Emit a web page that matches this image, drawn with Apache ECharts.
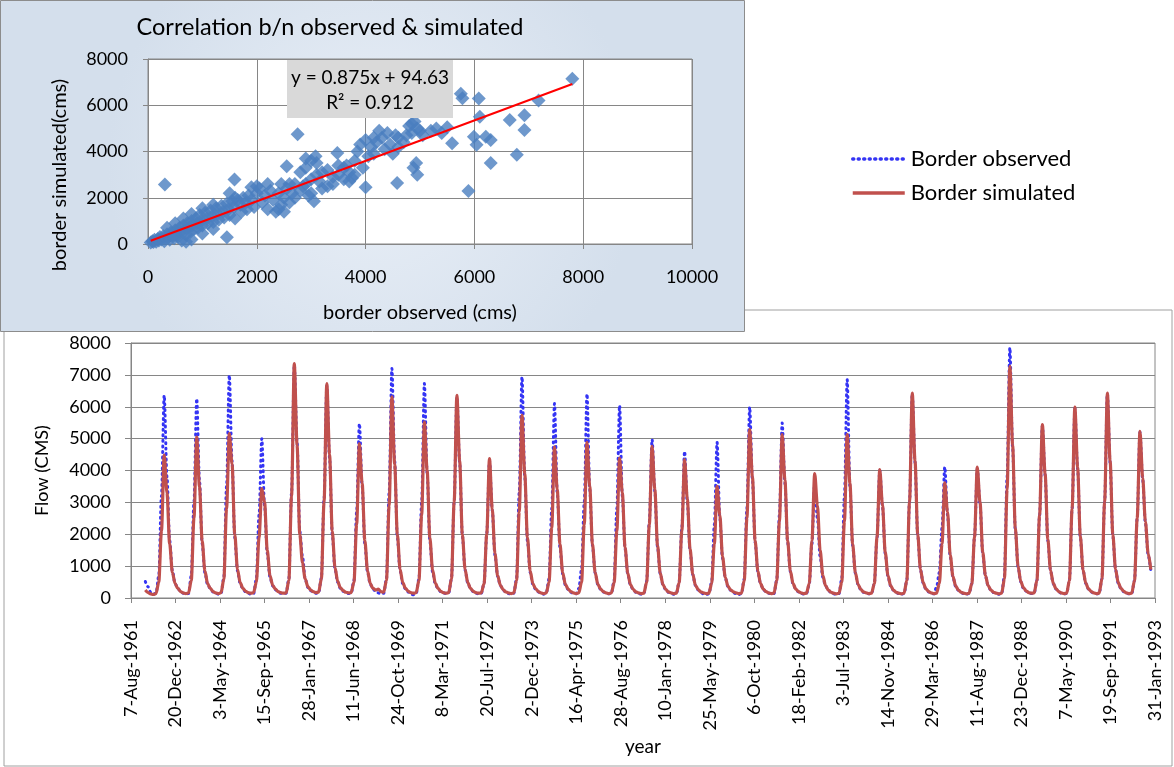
<!DOCTYPE html>
<html>
<head>
<meta charset="utf-8">
<title>Border observed vs simulated</title>
<script src="https://cdn.jsdelivr.net/npm/echarts@6/dist/echarts.min.js"></script>
<style>
  html, body { margin: 0; padding: 0; background: #fff; }
  #chart { width: 1174px; height: 767px; }
</style>
</head>
<body>
<div id="chart"></div>
<script>
var FONT = 'Lato, "Open Sans", sans-serif';

// x axis: days counted from 7-Aug-1961, one label every 500 days
var tickLabels = ['7-Aug-1961', '20-Dec-1962', '3-May-1964', '15-Sep-1965', '28-Jan-1967',
    '11-Jun-1968', '24-Oct-1969', '8-Mar-1971', '20-Jul-1972', '2-Dec-1973', '16-Apr-1975',
    '28-Aug-1976', '10-Jan-1978', '25-May-1979', '6-Oct-1980', '18-Feb-1982', '3-Jul-1983',
    '14-Nov-1984', '29-Mar-1986', '11-Aug-1987', '23-Dec-1988', '7-May-1990', '19-Sep-1991',
    '31-Jan-1993'];

// monthly flow (cms), Jan..Dec, one row per year starting 1962
var startYear = 1962;
var simFlow = [
    250, 170, 130, 110, 140, 500, 2100, 4480, 3300, 1700, 800, 450,
    300, 200, 160, 140, 160, 550, 2500, 5050, 3500, 1800, 850, 450,
    300, 200, 160, 140, 170, 600, 2800, 5160, 4200, 2000, 900, 480,
    300, 210, 170, 150, 170, 500, 1900, 3430, 3010, 1500, 700, 400,
    280, 200, 170, 150, 160, 550, 3200, 7350, 4800, 2000, 1100, 600,
    350, 250, 200, 170, 180, 600, 3000, 6730, 4500, 2100, 950, 520,
    320, 230, 180, 160, 170, 500, 2300, 4840, 3600, 1800, 850, 450,
    300, 250, 280, 200, 180, 550, 2900, 6310, 4200, 2000, 900, 480,
    300, 210, 170, 150, 170, 550, 2600, 5520, 4000, 1900, 880, 470,
    300, 210, 170, 150, 170, 600, 3000, 6360, 4300, 2000, 900, 480,
    300, 210, 170, 150, 160, 450, 2000, 4370, 2800, 1400, 700, 400,
    260, 190, 160, 140, 160, 550, 2700, 5730, 3900, 1900, 850, 450,
    290, 200, 160, 140, 160, 500, 2200, 4740, 3400, 1700, 800, 430,
    280, 200, 160, 140, 160, 500, 2300, 4880, 3500, 1700, 800, 430,
    280, 200, 160, 140, 160, 480, 2100, 4390, 3300, 1600, 780, 420,
    270, 190, 160, 140, 150, 500, 2300, 4760, 3400, 1650, 780, 420,
    270, 190, 160, 140, 150, 480, 2100, 4340, 3100, 1550, 750, 400,
    260, 190, 160, 140, 150, 450, 1700, 3500, 2600, 1300, 650, 370,
    250, 190, 160, 140, 150, 550, 2500, 5280, 3800, 1800, 850, 450,
    280, 200, 160, 140, 150, 550, 2400, 5130, 3700, 1800, 850, 450,
    280, 200, 160, 140, 150, 450, 1800, 3900, 2900, 1500, 700, 390,
    250, 180, 150, 130, 150, 500, 2400, 5130, 3600, 1700, 800, 430,
    270, 190, 160, 140, 150, 450, 1900, 4030, 2900, 1450, 700, 390,
    250, 180, 150, 130, 150, 550, 3000, 6430, 4300, 2000, 900, 480,
    290, 200, 160, 140, 150, 450, 1700, 3610, 2700, 1350, 680, 380,
    250, 180, 150, 130, 150, 450, 1900, 4110, 3000, 1450, 700, 390,
    250, 180, 150, 130, 150, 600, 3400, 7270, 4800, 2200, 1000, 520,
    320, 220, 170, 150, 160, 550, 2600, 5440, 3900, 1850, 870, 460,
    290, 200, 160, 140, 150, 550, 2800, 5990, 4100, 1950, 880, 470,
    290, 200, 160, 140, 150, 600, 3000, 6430, 4300, 2000, 900, 480,
    300, 210, 160, 140, 150, 550, 2500, 5230, 3770, 2400, 1400, 890
];
var obsFlow = [
    520, 350, 180, 120, 150, 700, 3200, 6360, 3800, 1800, 850, 450,
    300, 200, 150, 120, 140, 700, 3000, 6250, 3700, 1700, 800, 420,
    300, 190, 150, 120, 150, 650, 3500, 6990, 4300, 1900, 850, 450,
    280, 190, 150, 120, 140, 600, 2600, 5000, 2900, 1400, 650, 380,
    260, 190, 150, 130, 150, 600, 3300, 7300, 4900, 2100, 1300, 600,
    330, 230, 180, 150, 160, 620, 3100, 6650, 4400, 2000, 900, 500,
    300, 210, 160, 140, 150, 550, 2700, 5470, 3500, 1700, 800, 430,
    280, 200, 160, 130, 150, 600, 3300, 7200, 4300, 1900, 850, 450,
    280, 190, 120, 100, 140, 600, 3000, 6730, 3900, 1800, 820, 440,
    290, 200, 160, 140, 160, 600, 3000, 6300, 4250, 1950, 880, 470,
    290, 200, 150, 130, 150, 450, 2000, 4300, 2750, 1350, 680, 390,
    250, 180, 140, 120, 150, 600, 3300, 6940, 3800, 1800, 800, 430,
    270, 190, 140, 120, 150, 600, 2800, 6100, 3300, 1600, 760, 410,
    270, 180, 140, 130, 300, 900, 3000, 6400, 3400, 1650, 780, 420,
    270, 190, 150, 130, 150, 550, 2800, 6040, 3200, 1550, 750, 400,
    260, 180, 140, 120, 140, 520, 2400, 4970, 3350, 1600, 760, 410,
    260, 180, 140, 120, 140, 500, 2200, 4600, 3000, 1500, 730, 390,
    250, 170, 130, 110, 130, 500, 2300, 4880, 2500, 1250, 630, 360,
    240, 170, 130, 110, 140, 600, 2800, 5990, 3700, 1750, 820, 440,
    270, 190, 150, 130, 140, 560, 2600, 5490, 3600, 1750, 830, 440,
    270, 190, 150, 120, 140, 420, 1700, 3600, 2500, 1300, 650, 380,
    240, 170, 130, 110, 140, 600, 3200, 6850, 3500, 1650, 780, 420,
    260, 180, 150, 130, 140, 450, 1900, 4000, 2850, 1400, 680, 380,
    240, 170, 140, 120, 140, 550, 3000, 6400, 4250, 1950, 880, 470,
    280, 190, 150, 130, 350, 800, 2200, 4110, 2600, 1300, 650, 370,
    240, 170, 140, 120, 140, 450, 1900, 4050, 2950, 1400, 680, 380,
    240, 170, 140, 120, 140, 700, 3800, 7850, 4700, 2150, 980, 510,
    300, 210, 160, 140, 150, 550, 2600, 5400, 3850, 1800, 850, 450,
    280, 190, 150, 130, 140, 550, 2800, 5950, 4050, 1900, 860, 460,
    280, 190, 150, 130, 140, 600, 3000, 6400, 4250, 1950, 880, 470,
    290, 200, 150, 130, 140, 550, 2500, 5200, 3700, 2350, 1350, 850
];

// inset scatter: [observed, simulated]
var scatterPoints = [
    [50, 60], [80, 120], [100, 90], [120, 180], [150, 100], [180, 220], [200, 150], [220, 300],
    [250, 200], [280, 350], [300, 120], [320, 260], [350, 420], [350, 700], [380, 300], [400, 180],
    [420, 500], [450, 380], [480, 250], [500, 600], [500, 900], [520, 420], [550, 300], [580, 700],
    [600, 520], [620, 150], [650, 800], [650, 1100], [680, 600], [700, 100], [700, 400], [720, 900],
    [750, 700], [780, 520], [800, 200], [800, 1000], [800, 1300], [820, 820], [850, 650], [880, 1100],
    [900, 900], [920, 700], [950, 1250], [980, 1000], [1000, 450], [1000, 800], [1000, 1550], [1050, 1350],
    [1080, 1100], [1100, 900], [1150, 1450], [1180, 1200], [1200, 650], [1200, 950], [1200, 1700], [1250, 1550],
    [1280, 1300], [1300, 1050], [1350, 1650], [1380, 1400], [1400, 1150], [1450, 290], [1450, 1750], [1480, 1500],
    [1500, 1250], [1500, 2200], [1550, 1850], [1580, 1600], [1590, 2790], [1600, 1100], [1600, 2000], [1650, 1900],
    [1700, 1700], [1720, 1400], [1750, 2000], [1800, 1800], [1820, 1500], [1850, 2100], [1900, 1900], [1900, 2450],
    [1950, 1600], [2000, 2200], [2000, 2500], [2050, 2400], [2100, 1800], [2150, 2100], [2200, 1500], [2200, 2600],
    [2250, 2300], [2300, 1900], [2350, 1400], [2400, 1500], [2400, 2200], [2450, 1700], [2450, 2600], [2500, 1400],
    [2500, 2000], [2550, 2400], [2550, 3360], [2600, 1800], [2600, 2600], [2650, 2200], [2700, 2000], [2700, 2600],
    [2750, 4750], [2800, 2300], [2800, 3100], [2850, 2500], [2900, 2600], [2900, 3300], [2900, 3700], [2950, 2100],
    [3000, 2200], [3000, 2800], [3000, 3600], [3050, 1850], [3080, 3790], [3100, 3000], [3100, 3500], [3150, 2700],
    [3200, 2400], [3200, 3100], [3300, 2500], [3300, 3200], [3400, 2600], [3400, 2900], [3480, 3930], [3500, 3000],
    [3500, 3400], [3600, 2800], [3600, 3300], [3650, 3400], [3700, 2700], [3700, 3100], [3750, 2850], [3800, 3000],
    [3800, 3600], [3850, 4000], [3900, 4300], [3950, 3300], [4000, 2450], [4000, 4500], [4050, 3800], [4100, 4200],
    [4150, 3900], [4150, 4600], [4200, 4400], [4250, 4900], [4300, 4600], [4350, 4100], [4400, 4800], [4450, 4300],
    [4500, 3900], [4550, 4700], [4580, 2640], [4600, 4200], [4600, 4600], [4700, 4400], [4750, 4700], [4800, 5100],
    [4850, 4800], [4850, 5200], [4880, 3300], [4900, 5300], [4930, 3500], [4950, 3000], [4950, 5000], [5000, 4900],
    [5050, 4700], [5200, 4900], [5300, 5000], [5400, 4800], [5500, 5050], [5590, 4360], [5750, 6500], [5780, 6300],
    [5890, 2290], [5990, 4640], [6040, 4290], [6080, 6290], [6100, 5500], [6210, 4640], [6300, 4500], [6300, 3500],
    [6650, 5360], [6780, 3860], [6920, 5570], [6920, 4930], [7180, 6210], [7800, 7150], [310, 2570]
];
// fitted line y = 0.875x + 94.63, ends
var trendLine = [[50, 138], [7800, 6920]];

var baseDay = Date.UTC(1961, 7, 7);
function toSeries(values) {
    return values.map(function (v, i) {
        var y = startYear + Math.floor(i / 12);
        var m = i % 12;
        return [(Date.UTC(y, m, 15) - baseDay) / 864e5, v];
    });
}
function plain(v) { return String(v); }

var chart = echarts.init(document.getElementById('chart'));
var axisGray = '#868686';

chart.setOption({
    animation: false,
    backgroundColor: '#fff',
    textStyle: { fontFamily: FONT, color: '#000' },
    graphic: [
        { type: 'rect', z: -20, shape: { x: 4, y: 310, width: 1168, height: 456 },
          style: { fill: '#fff', stroke: '#a0a0a0', lineWidth: 1 } },
        { type: 'rect', z: -10, shape: { x: 0.5, y: 0.5, width: 744, height: 331 },
          style: { stroke: '#8c8c8c', lineWidth: 1,
                   fill: new echarts.graphic.RadialGradient(0.5, 0.5, 0.8, [
                       { offset: 0, color: '#e9eff7' }, { offset: 1, color: '#d4dfec' }]) } },
        { type: 'text', z: 50, style: { text: 'Correlation b/n observed & simulated', x: 330, y: 27,
          align: 'center', verticalAlign: 'middle', fontSize: 23.5, fontFamily: FONT, fill: '#000' } },
        { type: 'text', z: 50, rotation: Math.PI / 2, x: 60, y: 175,
          style: { text: 'border simulated(cms)', x: 0, y: 0, align: 'center', verticalAlign: 'middle',
                   fontSize: 20, fontFamily: FONT, fill: '#000' } },
        { type: 'rect', z: 60, shape: { x: 287, y: 60, width: 166, height: 58 },
          style: { fill: '#d9d9d9' } },
        { type: 'text', z: 61, style: { text: 'y = 0.875x + 94.63', x: 370, y: 78, align: 'center',
          verticalAlign: 'middle', fontSize: 19, fontFamily: FONT, fill: '#000' } },
        { type: 'text', z: 61, style: { text: 'R² = 0.912', x: 370, y: 103, align: 'center',
          verticalAlign: 'middle', fontSize: 19, fontFamily: FONT, fill: '#000' } }
    ],
    legend: {
        data: ['Border observed', 'Border simulated'],
        orient: 'vertical',
        left: 846, top: 143,
        itemWidth: 52, itemHeight: 12, itemGap: 12,
        itemStyle: { opacity: 0 },
        lineStyle: { width: 3.5 },
        textStyle: { fontSize: 22, fontFamily: FONT, color: '#000', padding: [0, 0, 0, 1] }
    },
    grid: [
        { left: 131, top: 343, width: 1024, height: 255, show: true,
          borderColor: axisGray, borderWidth: 1, backgroundColor: 'transparent' },
        { left: 148, top: 59, width: 544, height: 185, show: true,
          borderColor: axisGray, borderWidth: 1, backgroundColor: '#fff' }
    ],
    xAxis: [
        { type: 'value', gridIndex: 0, min: 0, max: 11500, interval: 500,
          name: 'year', nameLocation: 'middle', nameGap: 139,
          nameTextStyle: { fontSize: 19, fontFamily: FONT, color: '#000' },
          axisLine: { show: true, lineStyle: { color: axisGray } },
          axisTick: { show: true, length: 5, lineStyle: { color: axisGray } },
          splitLine: { show: false },
          axisLabel: { rotate: 90, margin: 22, fontSize: 18, fontFamily: FONT, color: '#000',
                       showMinLabel: true, showMaxLabel: true,
                       formatter: function (v) { return tickLabels[Math.round(v / 500)] || ''; } } },
        { type: 'value', gridIndex: 1, min: 0, max: 10000, interval: 2000,
          name: 'border observed (cms)', nameLocation: 'middle', nameGap: 59,
          nameTextStyle: { fontSize: 20, fontFamily: FONT, color: '#000' },
          axisLine: { show: true, onZero: false, lineStyle: { color: axisGray } },
          axisTick: { show: true, length: 5, lineStyle: { color: axisGray } },
          splitLine: { show: true, lineStyle: { color: axisGray } },
          axisLabel: { margin: 24, fontSize: 18, fontFamily: FONT, color: '#000', formatter: plain } }
    ],
    yAxis: [
        { type: 'value', gridIndex: 0, min: 0, max: 8000, interval: 1000,
          name: 'Flow (CMS)', nameLocation: 'middle', nameGap: 80,
          nameTextStyle: { fontSize: 18, fontFamily: FONT, color: '#000' },
          axisLine: { show: true, lineStyle: { color: axisGray } },
          axisTick: { show: true, length: 6, lineStyle: { color: axisGray } },
          splitLine: { show: true, lineStyle: { color: axisGray } },
          axisLabel: { margin: 20, fontSize: 18, fontFamily: FONT, color: '#000', formatter: plain } },
        { type: 'value', gridIndex: 1, min: 0, max: 8000, interval: 2000,
          axisLine: { show: true, onZero: false, lineStyle: { color: axisGray } },
          axisTick: { show: true, length: 5, lineStyle: { color: axisGray } },
          splitLine: { show: true, lineStyle: { color: axisGray } },
          axisLabel: { margin: 20, fontSize: 18, fontFamily: FONT, color: '#000', formatter: plain } }
    ],
    series: [
        { name: 'Border observed', type: 'line', xAxisIndex: 0, yAxisIndex: 0,
          data: toSeries(obsFlow), symbol: 'none', smooth: 0.3, smoothMonotone: 'x', z: 2,
          itemStyle: { color: '#3434f4' },
          lineStyle: { color: '#3434f4', width: 3, type: [1, 4.5], cap: 'round' } },
        { name: 'Border simulated', type: 'line', xAxisIndex: 0, yAxisIndex: 0,
          data: toSeries(simFlow), symbol: 'none', smooth: 0.3, smoothMonotone: 'x', z: 3,
          itemStyle: { color: '#c0504d' },
          lineStyle: { color: '#c0504d', width: 3.2 } },
        { name: 'scatter', type: 'scatter', xAxisIndex: 1, yAxisIndex: 1,
          data: scatterPoints, symbol: 'diamond', symbolSize: [14, 14], z: 3,
          itemStyle: { color: '#4a7ebf' } },
        { name: 'trend', type: 'line', xAxisIndex: 1, yAxisIndex: 1,
          data: trendLine, symbol: 'none', z: 4,
          lineStyle: { color: '#ff0000', width: 2 } }
    ]
});
</script>
</body>
</html>
